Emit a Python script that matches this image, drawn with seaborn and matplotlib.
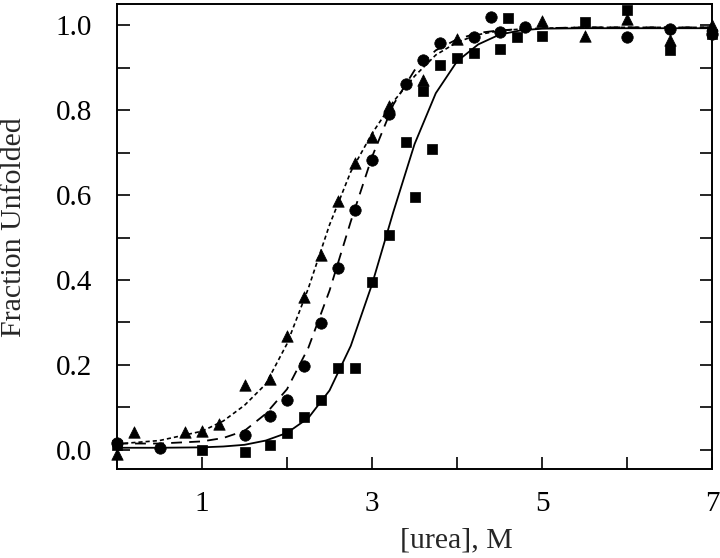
import numpy as np
import pandas as pd
import seaborn as sns
import matplotlib.pyplot as plt
from matplotlib.ticker import MultipleLocator, FixedLocator

# Data points (urea in M, fraction unfolded)
tri_x = [0.0, 0.2, 0.8, 1.0, 1.2, 1.5, 1.8, 2.0, 2.2, 2.4, 2.6, 2.8, 3.0, 3.2, 3.6, 4.0, 5.0, 5.5, 6.0, 6.5, 7.0]
tri_y = [-0.01, 0.043, 0.043, 0.045, 0.061, 0.153, 0.167, 0.268, 0.36, 0.459, 0.585, 0.675, 0.737, 0.81, 0.87, 0.967,
         1.01, 0.974, 1.014, 0.965, 1.0]

circ_x = [0.0, 0.5, 1.5, 1.8, 2.0, 2.2, 2.4, 2.6, 2.8, 3.0, 3.2, 3.4, 3.6, 3.8, 4.2, 4.4, 4.5, 4.8, 6.0, 6.5, 7.0]
circ_y = [0.016, 0.004, 0.035, 0.08, 0.118, 0.198, 0.299, 0.428, 0.565, 0.682, 0.792, 0.861, 0.918, 0.958, 0.972,
          1.02, 0.984, 0.995, 0.972, 0.99, 0.98]

sq_x = [0.0, 1.0, 1.5, 1.8, 2.0, 2.2, 2.4, 2.6, 2.8, 3.0, 3.2, 3.4, 3.5, 3.6, 3.7, 3.8, 4.0, 4.2, 4.5, 4.6, 4.7,
        5.0, 5.5, 6.0, 6.5, 7.0]
sq_y = [0.012, 0.0, -0.004, 0.012, 0.04, 0.078, 0.118, 0.193, 0.193, 0.395, 0.506, 0.725, 0.595, 0.845, 0.708, 0.906,
        0.922, 0.934, 0.945, 1.016, 0.972, 0.975, 1.007, 1.035, 0.941, 0.98]

# Fitted curves
fit_x = [0, 0.5, 1.0, 1.25, 1.5, 1.75, 2.0, 2.25, 2.5, 2.75, 3.0, 3.25, 3.5, 3.75, 4.0, 4.25, 4.5, 4.75, 5.0, 5.5,
         6.0, 6.5, 7.0]
fit_solid = [0.005, 0.005, 0.006, 0.008, 0.012, 0.022, 0.04, 0.075, 0.14, 0.245, 0.39, 0.56, 0.72, 0.84, 0.915,
             0.955, 0.978, 0.988, 0.992, 0.993, 0.993, 0.993, 0.993]
fit_dashed = [0.015, 0.015, 0.02, 0.028, 0.045, 0.085, 0.143, 0.24, 0.375, 0.538, 0.69, 0.813, 0.894, 0.941, 0.967,
              0.982, 0.988, 0.991, 0.993, 0.995, 0.995, 0.995, 0.995]
fit_dotted = [0.014, 0.022, 0.044, 0.068, 0.105, 0.155, 0.25, 0.38, 0.53, 0.655, 0.745, 0.82, 0.88, 0.93, 0.96,
              0.978, 0.987, 0.991, 0.993, 0.995, 0.995, 0.995, 0.995]

sns.set_style("ticks")
plt.rcParams['font.family'] = ['Liberation Serif', 'DejaVu Serif']

fig = plt.figure(figsize=(7.2, 5.58), dpi=100)
ax = fig.add_axes([0.1625, 0.1595, 0.8265, 0.8333])

fits = pd.DataFrame({'x': fit_x, 'solid': fit_solid, 'dashed': fit_dashed, 'dotted': fit_dotted})
sns.lineplot(data=fits, x='x', y='solid', ax=ax, color='black', lw=1.3, linestyle='-')
sns.lineplot(data=fits, x='x', y='dashed', ax=ax, color='black', lw=1.3).lines[-1].set_dashes([6, 4])
sns.lineplot(data=fits, x='x', y='dotted', ax=ax, color='black', lw=1.2).lines[-1].set_dashes([2.5, 1.8])

ms = 68
sns.scatterplot(x=tri_x, y=tri_y, ax=ax, marker='^', s=ms, color='black', edgecolor='black', linewidth=0.5,
                clip_on=False, zorder=5)
sns.scatterplot(x=circ_x, y=circ_y, ax=ax, marker='o', s=ms, color='black', edgecolor='black', linewidth=0.5,
                clip_on=False, zorder=5)
sns.scatterplot(x=sq_x, y=sq_y, ax=ax, marker='s', s=ms * 0.85, color='black', edgecolor='black', linewidth=0.5,
                clip_on=False, zorder=5)

ax.set_xlim(0, 7)
ax.set_ylim(-0.045, 1.05)
ax.xaxis.set_major_locator(FixedLocator([1, 3, 5, 7]))
ax.xaxis.set_minor_locator(FixedLocator([2, 4, 6]))
ax.yaxis.set_minor_locator(MultipleLocator(0.1))
ax.set_yticks([0.0, 0.2, 0.4, 0.6, 0.8, 1.0])
ax.set_yticklabels(['0.0', '0.2', '0.4', '0.6', '0.8', '1.0'])
ax.set_xticklabels(['1', '3', '5', '7'])

for sp in ax.spines.values():
    sp.set_linewidth(1.4)
    sp.set_color('black')
ax.tick_params(axis='both', which='both', direction='in', length=9, width=1.2, colors='black',
               labelsize=21, right=True, top=False)
ax.tick_params(axis='x', which='major', pad=16)
ax.tick_params(axis='y', which='major', pad=18)

ax.set_xlabel('[urea], M', fontsize=21.5)
ax.set_ylabel('Fraction Unfolded', fontsize=21.5)
ax.xaxis.set_label_coords(0.571, -0.125)
ax.yaxis.set_label_coords(-0.152, 0.52)

fig.savefig('out.png', dpi=100)
